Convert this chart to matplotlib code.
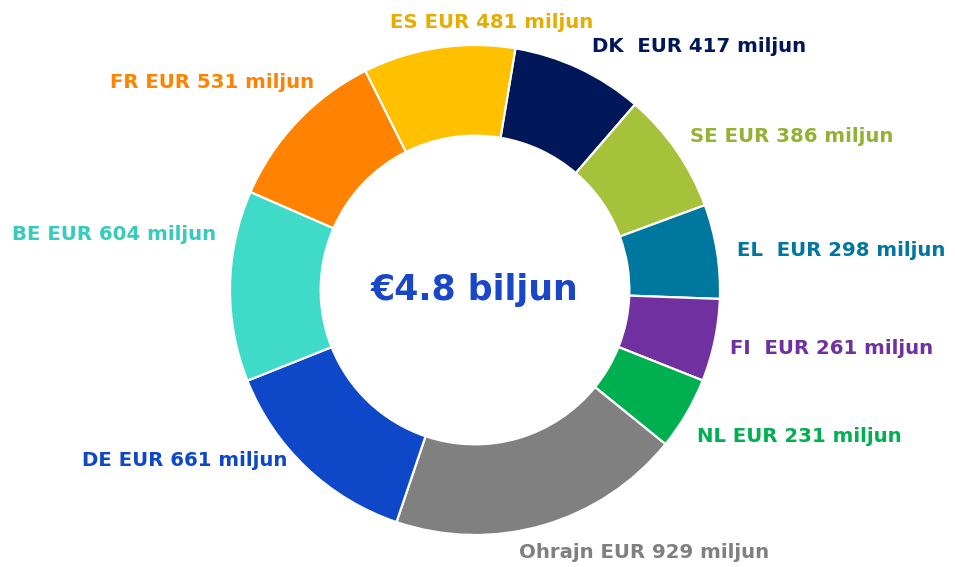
import matplotlib
matplotlib.use("Agg")
import matplotlib.pyplot as plt

# Data (clockwise from top)
countries = ["DK", "SE", "EL", "FI", "NL", "Ohrajn", "DE", "BE", "FR", "ES"]
values = [417, 386, 298, 261, 231, 929, 661, 604, 531, 481]
label_texts = ["DK  EUR 417 miljun", "SE EUR 386 miljun", "EL  EUR 298 miljun",
               "FI  EUR 261 miljun", "NL EUR 231 miljun", "Ohrajn EUR 929 miljun",
               "DE EUR 661 miljun", "BE EUR 604 miljun", "FR EUR 531 miljun",
               "ES EUR 481 miljun"]
center_text = "€4.8 biljun"

colors = ["#00175a", "#a6c13a", "#00779e", "#7030a0", "#00b050",
          "#808080", "#0e47c8", "#40dac9", "#ff8300", "#ffc000"]
text_colors = ["#00175a", "#93b132", "#00779e", "#7030a0", "#00b050",
               "#808080", "#0e47c8", "#36cbbb", "#ff8300", "#e6ac00"]

# label anchor positions in pixel coordinates (left edge x, center y)
label_pos = {
    "DK": (592, 46), "SE": (690, 137), "EL": (737, 250), "FI": (730, 348),
    "NL": (697, 437), "Ohrajn": (519, 553), "DE": (82, 460), "BE": (12, 235),
    "FR": (110, 83), "ES": (390, 22),
}

W, H = 955, 567
fig = plt.figure(figsize=(W / 100, H / 100), dpi=100)
ax = fig.add_axes([0, 0, 1, 1])
ax.set_xlim(0, W)
ax.set_ylim(0, H)
ax.set_aspect("equal")
ax.axis("off")

R = 245
ax.pie(values, colors=colors, startangle=80.5, counterclock=False,
       center=(475, H - 290), radius=R,
       wedgeprops=dict(width=R * 0.37, edgecolor="white", linewidth=1.6))
ax.set_xlim(0, W)
ax.set_ylim(0, H)

for c, t, tc in zip(countries, label_texts, text_colors):
    x, y = label_pos[c]
    ax.text(x, H - y, t, color=tc, fontsize=14.2, fontweight="bold",
            ha="left", va="center", family="DejaVu Sans")

ax.text(475, H - 290, center_text, color="#1a47c8", fontsize=25,
        fontweight="bold", ha="center", va="center", family="DejaVu Sans")

fig.savefig("out.png", dpi=100, facecolor="white")
